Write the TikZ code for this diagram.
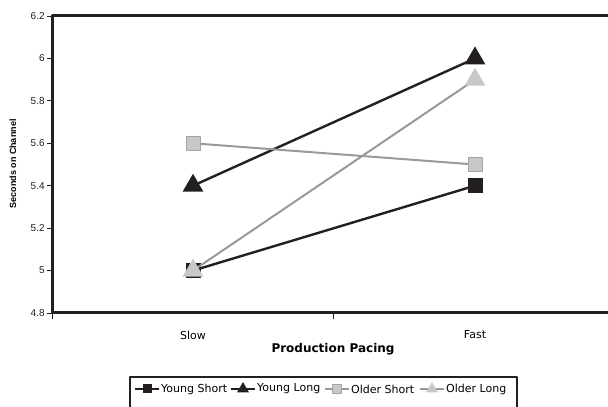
\documentclass[tikz,border=0pt]{standalone}
\usepackage{fontspec}
\setmainfont{Liberation Sans}
\newfontfamily\comicfont{DejaVu Sans}
\usetikzlibrary{shapes.geometric}
\definecolor{ink}{HTML}{231F20}
\definecolor{oldline}{HTML}{999999}
\definecolor{oldfill}{HTML}{C8C8C8}
\definecolor{oldedge}{HTML}{A4A4A4}
\tikzset{
  ysmark/.style={rectangle, minimum size=15pt, inner sep=0pt, fill=ink},
  ylmark/.style={regular polygon, regular polygon sides=3, minimum size=24pt, inner sep=0pt, fill=ink},
  osmark/.style={rectangle, minimum size=14pt, inner sep=0pt, fill=oldfill, draw=oldedge, line width=.8pt},
  olmark/.style={regular polygon, regular polygon sides=3, minimum size=24pt, inner sep=0pt, fill=oldfill},
  youngline/.style={ink, line width=2.4pt},
  olderline/.style={oldline, line width=2pt},
  comic/.style={font=\comicfont\fontsize{11}{13}\selectfont}
}
\begin{document}
\begin{tikzpicture}[x=1pt, y=1pt, line join=round, font=\fontsize{10}{12}\selectfont]
	\useasboundingbox (0,0) rectangle (608,407);
	\clip (0,0) rectangle (608,407);
	% plot area, y in seconds
	\begin{scope}[yshift=-924.27pt, y=212.14pt]
		\coordinate (TR) at (620,6.2);
		\coordinate (TL) at (52,6.2);
		\coordinate (BL) at (52,4.8);
		\coordinate (BR) at (620,4.8);
		\draw[ink, line width=3pt] (TR)--(TL)--(BL)--(BR);
		\foreach \v [count=\i] in {4.8,5,5.2,5.4,5.6,5.8,6,6.2}
			\draw[ink, line width=.8pt] (52,\v) -- (47,\v) node[anchor=east, inner sep=2pt, text=ink] (yl\i) {\v};
		\foreach \x in {52,333,614} \draw[ink, line width=.8pt] (\x,4.8) -- ++(0,-6pt);
			\coordinate (YS-slow) at (193,5.0);
			\coordinate (YS-fast) at (475,5.4);
			\coordinate (YL-slow) at (193,5.4);
			\coordinate (YL-fast) at (475,6.0);
			\coordinate (OS-slow) at (193,5.6);
			\coordinate (OS-fast) at (475,5.5);
			\coordinate (OL-slow) at (193,5.0);
			\coordinate (OL-fast) at (475,5.9);
		\draw[youngline] (YS-slow)--(YS-fast);
		\foreach \p in {YS-slow,YS-fast} \node[ysmark] (m-\p) at (\p) {};
		\draw[youngline] (YL-slow)--(YL-fast);
		\foreach \p in {YL-slow,YL-fast} \node[ylmark] (m-\p) at (\p) {};
		\draw[olderline] (OS-slow)--(OS-fast);
		\foreach \p in {OS-slow,OS-fast} \node[osmark] (m-\p) at (\p) {};
		\draw[olderline] (OL-slow)--(OL-fast);
		\foreach \p in {OL-slow,OL-fast} \node[olmark] (m-\p) at (\p) {};
	\end{scope}
	\node[rotate=90, font=\bfseries\fontsize{9}{11}\selectfont] (ylab) at (13,243) {Seconds on Channel};
	\node[comic] (slow) at (193,72) {Slow};
	\node[comic] (fast) at (475,72) {Fast};
	\node[font=\comicfont\bfseries\fontsize{12}{14}\selectfont] (xlab) at (333,58) {Production Pacing};
	% legend
	\draw[ink, line width=1.6pt] (130,-10) rectangle (517,30);
	\foreach \xa/\ln/\mk/\sz/\txt [count=\i] in {135/youngline/ysmark/9/Young Short, 231/youngline/ylmark/14/Young Long, 325/olderline/osmark/9/Older Short, 420/olderline/olmark/14/Older Long} {
		\coordinate (la\i) at (\xa,18);
		\coordinate (lb\i) at (\xa+24,18);
		\draw[\ln, line width=2pt] (la\i)--(lb\i);
		\node[\mk, minimum size=\sz pt] (lm\i) at (\xa+12,18) {};
		\node[comic, anchor=west, inner sep=1pt] (lt\i) at (\xa+25,18) {\txt};
	}
\end{tikzpicture}
\end{document}
